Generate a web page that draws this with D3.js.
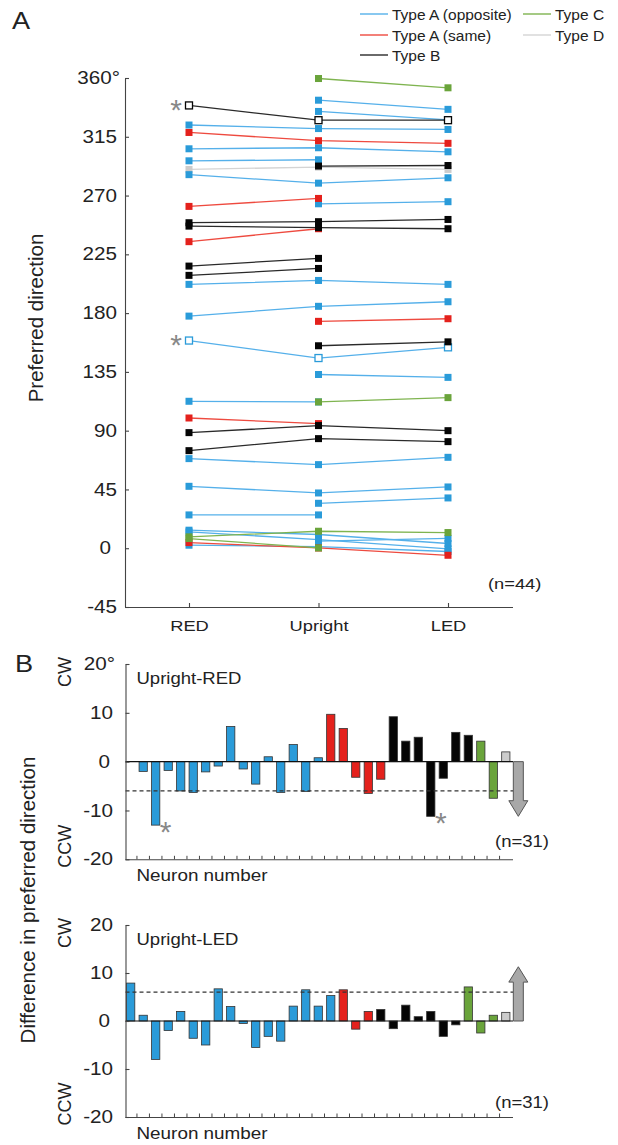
<!DOCTYPE html>
<html>
<head>
<meta charset="utf-8">
<script src="https://cdn.jsdelivr.net/npm/d3@7"></script>
<style>
  body { margin: 0; background: #fff; }
  text { font-family: "Liberation Sans", Arial, Helvetica, sans-serif; fill: #222; }
</style>
</head>
<body>
<script>
// ---- data ----
var conditions = ["RED", "Upright", "LED"];
var angleTicks = [-45, 0, 45, 90, 135, 180, 225, 270, 315, 360];
var diffTicks = [-20, -10, 0, 10, 20];

// preferred direction per neuron: [RED, Upright, LED], null = not recorded
var typeAopp = [
  [null, 343, 336], [null, 334.4, 328], [324, 321.3, 320.6], [305.8, 306.6, 303.5],
  [296.6, 297.4, null], [286, 279.5, 283.6], [null, 263.7, 265.3], [202, 205, 202],
  [177.7, 185.2, 188.7], [159, 145.6, 153.8], [null, 133, 130.8], [112.5, 112, null],
  [68.6, 64, 69.6], [47.4, 42.3, 46.9], [null, 34.4, 38.5], [25.5, 25.5, null],
  [13.8, 10.5, 3.6], [12.5, 6.6, -0.5], [2.3, 1.2, -2.5], [null, 5.5, 7.5]
];
var typeAsame = [
  [318.3, 312, 310], [261.7, 267.8, null], [234.7, 244.6, null],
  [null, 173.7, 175.7], [99.7, 95.4, null], [4.3, 0.2, -5.4]
];
var typeB = [
  [339, 327.7, 327.7], [null, 292.6, 293], [249.2, 250, 251.7], [246.6, 245.4, 244.6],
  [216, 221.9, null], [208.9, 214.2, null], [null, 155, 158], [88.5, 93.9, 90], [74.7, 83.9, 81.6]
];
var typeC = [[null, 359.6, 352.5], [null, 112, 115.3], [8.7, 13, 12], [7.4, 0.2, null]];
var typeD = [[290, 291.8, 290]];
// neurons drawn with open squares and an asterisk
var openAopp = [9];
var openB = [0];

// Upright minus RED / LED, per neuron
var diffRED = [0, -2, -13, -1.8, -6, -6.3, -2.1, -0.9, 7.2, -1.5, -4.6, 1, -6.3, 3.5, -6.1, 0.8,
  9.7, 6.8, -3.2, -6.5, -3.6,
  9.2, 4.2, 5, -11.2, -3.4, 6, 5.4,
  4.2, -7.5,
  2];
var groupsRED = [["Ao", 16], ["As", 5], ["B", 7], ["C", 2], ["D", 1]];
var starsRED = [2, 24];
var diffLED = [7.9, 1.2, -8, -2, 2, -3.6, -5, 6.7, 3, -0.5, -5.5, -3.2, -4.2, 3.1, 6.5, 3.1, 5.3,
  6.5, -1.7, 2,
  2.4, -1.6, 3.3, 0.9, 2, -3.2, -0.8,
  7.1, -2.5, 1.2,
  1.8];
var groupsLED = [["Ao", 17], ["As", 3], ["B", 7], ["C", 3], ["D", 1]];
var starsLED = [];
var thresholdRED = -6, thresholdLED = 6;
var arrowRED = { shaft: -8, tip: -11.2 };
var arrowLED = { shaft: 8.1, tip: 11.3 };

var legendNames = { Ao: "Type A (opposite)", As: "Type A (same)", B: "Type B", C: "Type C", D: "Type D" };

// ---- styles ----
var colors = {
  Ao: { fill: "#2a9bd9", line: "#55b0ea" },
  As: { fill: "#e4211c", line: "#ee4a3f" },
  B:  { fill: "#050505", line: "#2a2a2a" },
  C:  { fill: "#6aa43b", line: "#7fb450" },
  D:  { fill: "#cccccc", line: "#d4d4d4" }
};
var axisColor = "#444";
var stretch = 1.18;

var svg = d3.select("body").append("svg")
  .attr("width", 618)
  .attr("height", 1145);

function label(x, y, s, size, anchor) {
  return svg.append("text")
    .attr("transform", "translate(" + x + "," + y + ") scale(" + stretch + ",1)")
    .attr("text-anchor", anchor || "start")
    .style("font-size", size + "px")
    .text(s);
}

function vlabel(x, y, s, size) {
  return svg.append("text")
    .attr("transform", "translate(" + x + "," + y + ") rotate(-90)")
    .attr("text-anchor", "middle")
    .style("font-size", size + "px")
    .text(s);
}

function styleAxis(g, size, pad, shift) {
  g.attr("font-size", null).attr("font-family", null);
  g.selectAll(".domain, line").attr("stroke", axisColor).attr("stroke-width", 1.1);
  g.selectAll("text")
    .style("font-size", size + "px")
    .attr("fill", null)
    .each(function(d) {
      var t = d3.select(this);
      if (pad != null) {
        var dx = shift ? shift(d) : 0;
        t.attr("x", (-pad + dx) / stretch);
      }
      t.attr("transform", "scale(" + stretch + ",1)");
    });
}

// ---- panel A ----
var axL = 125, axR = 513;
var xA = d3.scalePoint().domain(conditions).range([189, 448]);
var yA = d3.scaleLinear().domain([-45, 360]).range([607, 78]);

var yAxisA = d3.axisLeft(yA)
  .tickValues(angleTicks)
  .tickSizeInner(-4)
  .tickSizeOuter(0)
  .tickPadding(8)
  .tickFormat(function(d) { return d === 360 ? d + "°" : d; });

var gyA = svg.append("g")
  .attr("transform", "translate(" + axL + ",0)")
  .call(yAxisA);
styleAxis(gyA, 17.5, 8, function(d) { return d === 0 ? -6 : (d === 360 ? 3 : 0); });

var xAxisA = d3.axisBottom(xA)
  .tickSizeInner(-4)
  .tickSizeOuter(0)
  .tickPadding(13);
var gxA = svg.append("g")
  .attr("transform", "translate(0," + yA(-45) + ")")
  .call(xAxisA);
gxA.select(".domain").remove();
styleAxis(gxA, 15.5, null);
svg.append("line")
  .attr("x1", axL).attr("x2", axR)
  .attr("y1", yA(-45) + 0.5).attr("y2", yA(-45) + 0.5)
  .attr("stroke", axisColor).attr("stroke-width", 1.1);

var neurons = [];
function addType(rows, type, open) {
  rows.forEach(function(r, i) {
    neurons.push({
      type: type,
      open: open.indexOf(i) >= 0,
      pts: r.map(function(v, j) { return [conditions[j], v]; })
    });
  });
}
addType(typeD, "D", []);
addType(typeAopp, "Ao", openAopp);
addType(typeAsame, "As", []);
addType(typeB, "B", openB);
addType(typeC, "C", []);

var valueline = d3.line()
  .defined(function(d) { return d[1] != null; })
  .x(function(d) { return xA(d[0]); })
  .y(function(d) { return yA(d[1]); });

svg.append("g").selectAll("path")
  .data(neurons)
  .enter().append("path")
  .attr("d", function(d) { return valueline(d.pts); })
  .attr("fill", "none")
  .attr("stroke", function(d) { return colors[d.type].line; })
  .attr("stroke-width", 1.3);

var ms = 7;
neurons.forEach(function(n) {
  svg.append("g").selectAll("rect")
    .data(n.pts.filter(function(p) { return p[1] != null; }))
    .enter().append("rect")
    .attr("x", function(p) { return xA(p[0]) - ms / 2; })
    .attr("y", function(p) { return yA(p[1]) - ms / 2; })
    .attr("width", ms).attr("height", ms)
    .attr("fill", n.open ? "#fff" : colors[n.type].fill)
    .attr("stroke", n.open ? colors[n.type].fill : "none")
    .attr("stroke-width", 1.3);
  if (n.open) {
    svg.append("text")
      .attr("x", xA("RED") - 13)
      .attr("y", yA(n.pts[0][1]) + 14.5)
      .attr("text-anchor", "middle")
      .style("font-size", "30px")
      .style("fill", "#888")
      .text("*");
  }
});

label(488, 589, "(n=44)", 15.5);
label(12, 29, "A", 23);
vlabel(43, 318, "Preferred direction", 20.5);

// legend
var legendItems = [
  { key: "Ao", x: 360, y: 14 }, { key: "As", x: 360, y: 35 }, { key: "B", x: 360, y: 55 },
  { key: "C", x: 523, y: 14 }, { key: "D", x: 523, y: 35 }
];
var lg = svg.append("g");
legendItems.forEach(function(it) {
  lg.append("line")
    .attr("x1", it.x).attr("x2", it.x + 28)
    .attr("y1", it.y).attr("y2", it.y)
    .attr("stroke", colors[it.key].line).attr("stroke-width", 1.4);
  lg.append("text")
    .attr("x", it.x + 32).attr("y", it.y + 5.5)
    .style("font-size", "15.5px")
    .text(legendNames[it.key]);
});

// ---- panel B ----
function expand(groups) {
  var out = [];
  groups.forEach(function(g) { for (var i = 0; i < g[1]; i++) out.push(g[0]); });
  return out;
}

function renderDiffPanel(cfg) {
  var y = d3.scaleLinear().domain([-20, 20]).range([cfg.bottom, cfg.top]);
  var x = d3.scaleBand()
    .domain(d3.range(cfg.values.length))
    .range([125.5, 511])
    .paddingInner(0.34)
    .paddingOuter(0.085);
  var types = expand(cfg.groups);
  var data = cfg.values.map(function(v, i) { return { i: i, v: v, type: types[i] }; });
  var g = svg.append("g");

  g.selectAll(".bar")
    .data(data.filter(function(d) { return d.v !== 0; }))
    .enter().append("rect")
    .attr("class", "bar")
    .attr("x", function(d) { return x(d.i); })
    .attr("width", x.bandwidth())
    .attr("y", function(d) { return y(Math.max(0, d.v)); })
    .attr("height", function(d) { return Math.abs(y(d.v) - y(0)); })
    .attr("fill", function(d) { return colors[d.type].fill; })
    .attr("stroke", "#333")
    .attr("stroke-width", 0.8);

  g.append("line")
    .attr("x1", 125.5).attr("x2", 513)
    .attr("y1", y(cfg.threshold)).attr("y2", y(cfg.threshold))
    .attr("stroke", "#333").attr("stroke-width", 1.2)
    .attr("stroke-dasharray", "4,3");

  g.append("line")
    .attr("x1", 125.5).attr("x2", 513)
    .attr("y1", y(0)).attr("y2", y(0))
    .attr("stroke", "#111").attr("stroke-width", 1.2);

  // off-scale arrow
  var ax = x(cfg.values.length - 1) + x.bandwidth() / 2 + x.step();
  var pts = [
    [ax - 5, y(0)], [ax + 5, y(0)], [ax + 5, y(cfg.arrow.shaft)], [ax + 9.5, y(cfg.arrow.shaft)],
    [ax, y(cfg.arrow.tip)], [ax - 9.5, y(cfg.arrow.shaft)], [ax - 5, y(cfg.arrow.shaft)]
  ];
  g.append("path")
    .attr("d", d3.line()(pts) + "Z")
    .attr("fill", "#a8a8a8")
    .attr("stroke", "#555")
    .attr("stroke-width", 1);

  cfg.stars.forEach(function(i) {
    g.append("text")
      .attr("x", x(i) + x.bandwidth() / 2 + 10)
      .attr("y", y(cfg.values[i]) + 17)
      .attr("text-anchor", "middle")
      .style("font-size", "30px")
      .style("fill", "#888")
      .text("*");
  });

  var yAxis = d3.axisLeft(y)
    .tickValues(diffTicks)
    .tickSizeInner(-4)
    .tickSizeOuter(0)
    .tickPadding(12)
    .tickFormat(function(d) { return (d === 20 && cfg.degree) ? d + "°" : d; });
  var gy = svg.append("g")
    .attr("transform", "translate(125.5,0)")
    .call(yAxis);
  styleAxis(gy, 17.5, 12.5, function(d) {
    if (d === 0) return -3;
    if (d === 20 && cfg.degree) return 2;
    return 0;
  });

  // bottom axis, ticks between neurons
  svg.append("line")
    .attr("x1", 125.5).attr("x2", 513)
    .attr("y1", y(-20) + 0.5).attr("y2", y(-20) + 0.5)
    .attr("stroke", axisColor).attr("stroke-width", 1.1);
  svg.append("g").selectAll("line")
    .data(d3.range(1, cfg.values.length))
    .enter().append("line")
    .attr("x1", function(i) { return x(i) - (x.step() - x.bandwidth()) / 2; })
    .attr("x2", function(i) { return x(i) - (x.step() - x.bandwidth()) / 2; })
    .attr("y1", y(-20))
    .attr("y2", y(-20) - 3.5)
    .attr("stroke", axisColor).attr("stroke-width", 1);

  label(136.5, cfg.top + 20, cfg.title, 15.7);
  label(136.5, y(-20) + 22, "Neuron number", 16);
  label(495, cfg.top + 183, "(n=" + cfg.values.length + ")", 15.7);
  vlabel(71, cfg.top + 8, "CW", 18);
  vlabel(71, cfg.bottom - 13, "CCW", 18);
}

renderDiffPanel({
  top: 664, bottom: 859.3, values: diffRED, groups: groupsRED, stars: starsRED,
  threshold: thresholdRED, arrow: arrowRED, title: "Upright-RED", degree: true
});
renderDiffPanel({
  top: 925, bottom: 1117, values: diffLED, groups: groupsLED, stars: starsLED,
  threshold: thresholdLED, arrow: arrowLED, title: "Upright-LED", degree: false
});

label(15, 672, "B", 23);
vlabel(35, 900, "Difference in preferred direction", 20.5);
</script>
</body>
</html>
